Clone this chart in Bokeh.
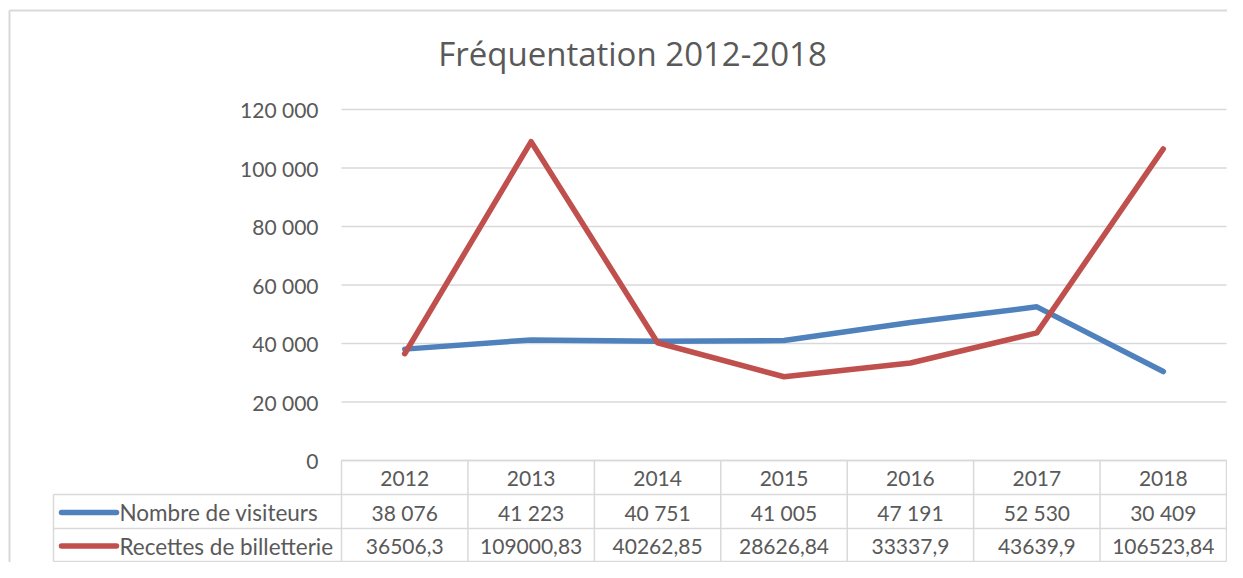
from bokeh.plotting import figure
from bokeh.models import Range1d, LinearAxis, FixedTicker, CustomJSTickFormatter
from bokeh.core.properties import value
from bokeh.embed import file_html
from bokeh.resources import INLINE

# ---- data ----
years = ["2012", "2013", "2014", "2015", "2016", "2017", "2018"]
visiteurs = [38076, 41223, 40751, 41005, 47191, 52530, 30409]
recettes = [36506.3, 109000.83, 40262.85, 28626.84, 33337.9, 43639.9, 106523.84]
series_names = ["Nombre de visiteurs", "Recettes de billetterie"]
y_ticks = [0, 20000, 40000, 60000, 80000, 100000, 120000]
title_text = "Fréquentation 2012-2018"

# ---- style ----
FONT = value("Lato")
TXT = "#595959"
GRID = "#D9D9D9"
BLUE = "#4F81BD"
RED = "#C0504D"

# ---- geometry (pixels) ----
W, H = 1227, 562
PL, PR, PT, PB = 341, 1226, 109, 460
n = len(years)
cw = (PR - PL) / n
ymax = y_ticks[-1]
k = ymax / (PB - PT)


def X(px):
    return (px - PL) / cw


def Y(py):
    return (PB - py) * k


p = figure(width=W, height=H, output_backend="svg", toolbar_location=None,
           x_range=Range1d(X(0), X(W)), y_range=Range1d(Y(H), Y(0)),
           x_axis_location=None, y_axis_location=None, min_border=0,
           outline_line_color=None, background_fill_color="white",
           border_fill_color="white")
p.xgrid.visible = False
p.ygrid.visible = False

# outer chart border (left + top visible)
p.segment(x0=[X(9), X(9)], y0=[Y(10), Y(10)], x1=[X(1300), X(9)], y1=[Y(10), Y(700)],
          line_color=GRID, line_width=2)

# title
p.text(x=[X(632)], y=[Y(53)], text=[title_text], text_font=value("Open Sans"),
       text_font_size="33px", text_color=TXT, text_align="center",
       text_baseline="alphabetic")

# y axis
yaxis = LinearAxis(ticker=FixedTicker(ticks=y_ticks), fixed_location=0)
yaxis.formatter = CustomJSTickFormatter(
    code="return Math.round(tick).toString().replace(/\\B(?=(\\d{3})+(?!\\d))/g, ' ');")
yaxis.axis_line_color = None
yaxis.major_tick_line_color = None
yaxis.minor_tick_line_color = None
yaxis.major_tick_out = 0
yaxis.major_tick_in = 0
yaxis.major_label_standoff = 23
yaxis.major_label_text_font = "Lato"
yaxis.major_label_text_font_size = "21px"
yaxis.major_label_text_color = TXT
p.add_layout(yaxis, "left")

# gridlines
p.segment(x0=[0] * len(y_ticks), x1=[n] * len(y_ticks), y0=y_ticks, y1=y_ticks,
          line_color=GRID, line_width=1.5)

# series
xs = [i + 0.5 for i in range(n)]
p.line(xs, visiteurs, line_color=BLUE, line_width=5.5, line_join="round", line_cap="round")
p.line(xs, recettes, line_color=RED, line_width=5.5, line_join="round", line_cap="round")

# ---- data table ----
rows_y = [460, 494, 528, 561]
TL = 53
hx0 = [0, X(TL), X(TL), X(TL)]
hy = [Y(r) for r in rows_y]
p.segment(x0=hx0, x1=[n] * 4, y0=hy, y1=hy, line_color=GRID, line_width=1.5)
vx = list(range(n + 1))
p.segment(x0=vx, x1=vx, y0=[Y(rows_y[0])] * len(vx), y1=[Y(rows_y[-1])] * len(vx),
          line_color=GRID, line_width=1.5)
p.segment(x0=[X(TL)], x1=[X(TL)], y0=[Y(rows_y[1])], y1=[Y(rows_y[-1])],
          line_color=GRID, line_width=1.5)

cy = [Y((rows_y[i] + rows_y[i + 1]) / 2 + 1) for i in range(3)]


def fmt_int(v):
    return f"{v:,}".replace(",", " ")


def fmt_dec(v):
    return str(v).replace(".", ",")


p.text(x=xs, y=[cy[0]] * n, text=years, text_font=FONT, text_font_size="21px",
       text_color=TXT, text_align="center", text_baseline="middle")
p.text(x=xs, y=[cy[1]] * n, text=[fmt_int(v) for v in visiteurs], text_font=FONT,
       text_font_size="21px", text_color=TXT, text_align="center", text_baseline="middle")
p.text(x=xs, y=[cy[2]] * n, text=[fmt_dec(v) for v in recettes], text_font=FONT,
       text_font_size="21px", text_color=TXT, text_align="center", text_baseline="middle")

# legend keys + row names
p.segment(x0=[X(61)] * 2, x1=[X(116)] * 2, y0=[cy[1], cy[2]], y1=[cy[1], cy[2]],
          line_color=[BLUE, RED], line_width=5.5, line_cap="round")
p.text(x=[X(119)] * 2, y=[cy[1], cy[2]], text=series_names, text_font=FONT,
       text_font_size="22.5px", text_color=TXT, text_align="left", text_baseline="middle")

open("out.html", "w").write(file_html(p, INLINE))
